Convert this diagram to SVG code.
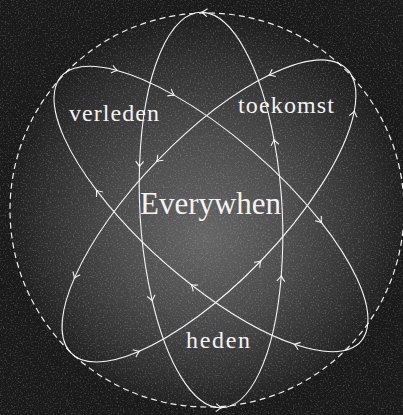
<svg xmlns="http://www.w3.org/2000/svg" width="403" height="415" viewBox="0 0 403 415">
<style>
.orb{fill:none;stroke:#f4f4f4;stroke-width:1.1;marker-start:url(#arr);marker-mid:url(#arr)}
.lbl{font-family:"Liberation Serif","Times New Roman",serif;fill:#f3f3f3}
</style>
<defs>
<radialGradient id="glow" gradientUnits="userSpaceOnUse" cx="207" cy="215" r="198" fx="205" fy="238">
<stop offset="0" stop-color="#666"/>
<stop offset="0.45" stop-color="#4c4c4c"/>
<stop offset="0.8" stop-color="#313131"/>
<stop offset="1" stop-color="#1f1f1f"/>
</radialGradient>
<filter id="noise" x="0" y="0" width="100%" height="100%">
<feTurbulence type="fractalNoise" baseFrequency="0.6" numOctaves="2" seed="7"/>
<feColorMatrix type="matrix" values="0 0 0 0 1  0 0 0 0 1  0 0 0 0 1  2.6 0 0 0 -1.35"/>
</filter>
<marker id="arr" markerUnits="userSpaceOnUse" markerWidth="12" markerHeight="12" viewBox="-6 -6 12 12" refX="0" refY="0" orient="auto" overflow="visible">
<path d="M-3.5,-4 Q0,-1 2,0 Q0,1 -3.5,4" fill="none" stroke="#f4f4f4" stroke-width="1.1"/>
</marker>
</defs>
<rect width="403" height="415" fill="#1a1a1a"/>
<circle cx="207" cy="210" r="197" fill="url(#glow)"/>
<rect width="403" height="415" filter="url(#noise)" opacity="0.22"/>
<circle cx="207" cy="210" r="197" fill="none" stroke="#f0f0f0" stroke-width="1.2" stroke-dasharray="6 4"/>
<g id="connectors">
<g transform="translate(211,210) rotate(-93.2)">
<path class="orb" d="M197.7,3.72 A198,71 0 0 0 49.2,-68.8 A198,71 0 0 0 -85.6,-64 A198,71 0 0 0 -197.9,-2.48 A198,71 0 0 0 -71.6,66.2 A198,71 0 0 0 64.8,67.1 A198,71 0 0 0 197.7,3.72"/>
</g>
<g transform="translate(211,209) rotate(41.5)">
<path class="orb" d="M-163.8,-40.7 A200,71 0 0 1 -105.1,-60.4 A200,71 0 0 1 89.9,-63.4 A200,71 0 0 1 153.7,45.4 A200,71 0 0 1 37.5,69.7 A200,71 0 0 1 -96.4,62.2 A200,71 0 0 1 -163.8,-40.7"/>
</g>
<g transform="translate(209,211) rotate(-46)">
<path class="orb" d="M141.2,-50.5 A198,72 0 0 0 1.38,-72 A198,72 0 0 0 -140,-50.9 A198,72 0 0 0 -151,46.6 A198,72 0 0 0 -2.07,72 A198,72 0 0 0 171.1,36.2 A198,72 0 0 0 141.2,-50.5"/>
</g>
</g>
<g id="node-verleden"><text class="lbl" x="69" y="121" font-size="24" textLength="90" lengthAdjust="spacing">verleden</text></g>
<g id="node-toekomst"><text class="lbl" x="238" y="113" font-size="24" textLength="96" lengthAdjust="spacing">toekomst</text></g>
<g id="node-everywhen"><text class="lbl" x="140" y="214" font-size="31" textLength="141" lengthAdjust="spacing">Everywhen</text></g>
<g id="node-heden"><text class="lbl" x="186" y="348" font-size="24" textLength="64" lengthAdjust="spacing">heden</text></g>
</svg>
